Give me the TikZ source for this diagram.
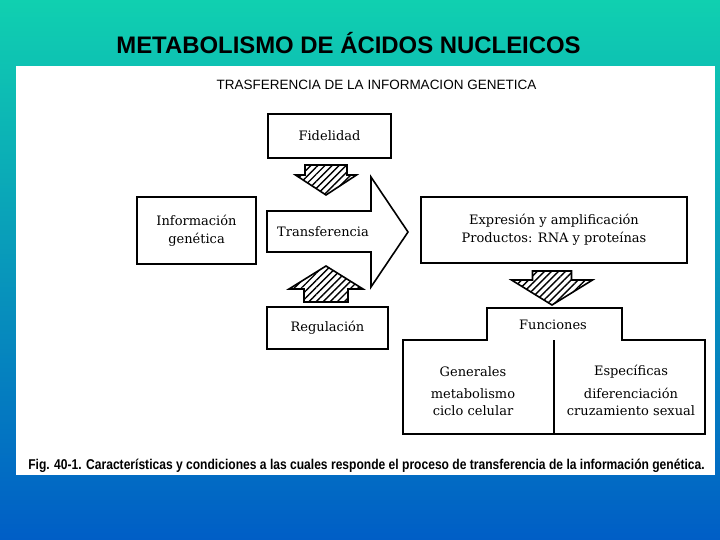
\documentclass[tikz,border=0pt]{standalone}
\usepackage{fontspec}
\newfontfamily\arial{Liberation Sans}
\newfontfamily\pief{Liberation Sans}[FakeStretch=0.85]
\newfontfamily\serifa{DejaVu Serif}
\usepackage{tikz}
\usetikzlibrary{patterns.meta}
\definecolor{fondoa}{HTML}{10D0B0}
\definecolor{fondob}{HTML}{1EB4E2}
\definecolor{fondoc}{HTML}{005EC6}
\tikzset{
  caja/.style={draw,line width=1.6pt,inner sep=2pt,align=center,font=\serifa\fontsize{13}{18}\selectfont},
  raya/.style={draw,line width=1.6pt,line join=miter},
  tram/.style={raya,pattern={Lines[angle=45,distance=5pt,line width=1.4pt]}},
  txt/.style={align=center,inner sep=0pt,font=\serifa\fontsize{13}{16.5}\selectfont}
}
\newcommand{\flecha}[6]{\draw[tram] (#1-#5,#2)--(#1+#5,#2)--(#1+#5,#3)--(#1+#6,#3)--(#1,#4)--(#1-#6,#3)--(#1-#5,#3)--cycle;}

\begin{document}
\begin{tikzpicture}[x=1pt,y=-1pt]
\shade[top color=fondoa,middle color=fondob,bottom color=fondoc] (0,0) rectangle (720,540);
\useasboundingbox (0,0) rectangle (720,540);
\fill[white] (16,66) rectangle (715,475);
\node[font=\arial\bfseries\fontsize{23.9}{26}\selectfont,inner sep=0pt] (titulo) at (348.5,43) {METABOLISMO DE ÁCIDOS NUCLEICOS};
\node[font=\arial\fontsize{13.5}{15}\selectfont,inner sep=0pt] (encab) at (376.5,85) {TRASFERENCIA DE LA INFORMACION GENETICA};
% cajas
\node[caja,minimum width=123,minimum height=44] (fid) at (329.5,136) {Fidelidad};
\node[caja,minimum width=119,minimum height=67] (info) at (196.5,230.5) {Información\\genética};
\node[caja,minimum width=121,minimum height=42] (reg) at (327.5,328) {Regulación};
\node[caja,minimum width=266,minimum height=66] (expr) at (554,230) {Expresión y amplificación\\Productos: RNA y proteínas};
% flecha grande
\draw[raya] (267,211)--(371,211)--(371,177)--(408,232)--(371,287)--(371,252)--(267,252)--cycle;
\node[txt] (trans) at (323,232) {Transferencia};
% flechas rayadas
\flecha{326}{165}{175}{195}{21}{30.5}
\flecha{326}{302}{289}{266}{22}{37}
\flecha{552}{271}{280}{305}{19.5}{40.5}
% funciones
\draw[raya] (403,340)--(487,340)--(487,308)--(622,308)--(622,340)--(705,340)--(705,434)--(403,434)--cycle;
\draw[raya] (554,340)--(554,434);
\node[txt] (func) at (553,325) {Funciones};
\node[txt] (gen) at (473,372) {Generales};
\node[txt] (gena) at (473,402) {metabolismo\\ciclo celular};
\node[txt] (esp) at (631,372) {Específicas};
\node[txt] (espa) at (631,402) {diferenciación\\cruzamiento sexual};
\node[font=\pief\bfseries\fontsize{14.2}{15}\selectfont,inner sep=0pt] (pie) at (366.5,466) {Fig. 40-1. Características y condiciones a las cuales responde el proceso de transferencia de la información genética.};
\end{tikzpicture}
\end{document}
